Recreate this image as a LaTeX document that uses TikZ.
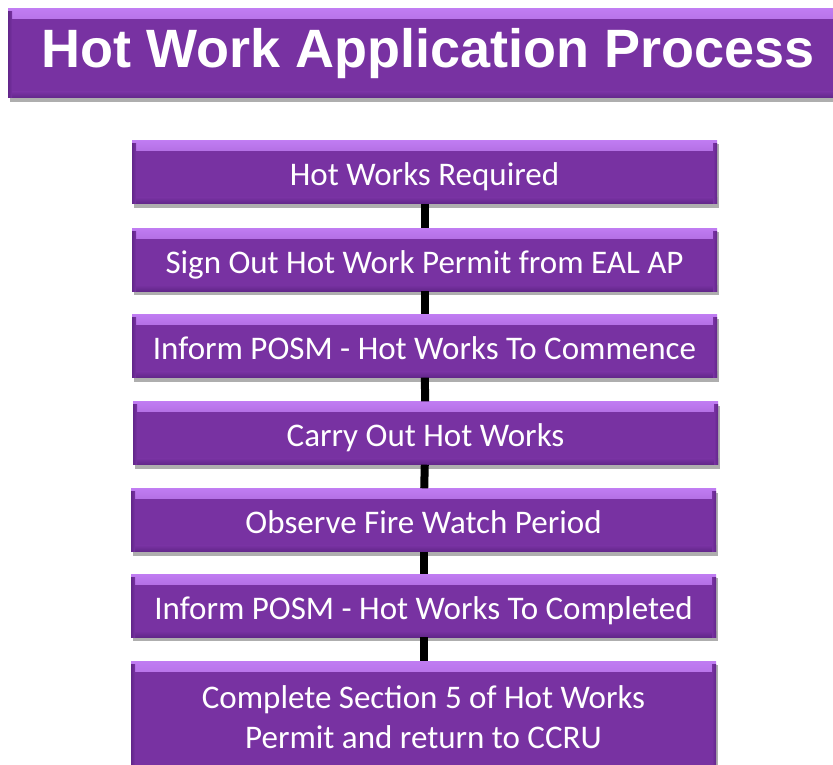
\documentclass[tikz,border=0pt]{standalone}
\usepackage{fontspec}
\setmainfont{Carlito}
\newfontfamily\titlefont{Liberation Sans}
\usetikzlibrary{shadows}
\definecolor{boxpurple}{HTML}{7832A2}
\definecolor{bevellight}{HTML}{C07CF2}
\definecolor{boxdark}{HTML}{62268A}
\tikzset{
  bevelled/.style={
    fill=boxpurple, text=white, inner sep=0pt, align=center,
    drop shadow={shadow xshift=2pt, shadow yshift=-4pt, opacity=0.45, fill=black!70},
    path picture={
      \shade[top color=bevellight, bottom color=boxpurple]
        (path picture bounding box.north west) rectangle ([yshift=-10pt]path picture bounding box.north east);
      \shade[top color=boxpurple, bottom color=boxdark]
        ([yshift=6pt]path picture bounding box.south west) rectangle (path picture bounding box.south east);
      \shade[left color=boxdark, right color=boxpurple]
        ([yshift=-3pt]path picture bounding box.north west) rectangle ([xshift=4pt]path picture bounding box.south west);
      \shade[left color=boxpurple, right color=boxdark]
        ([xshift=-4pt,yshift=-3pt]path picture bounding box.north east) rectangle (path picture bounding box.south east);
    }},
  stepbase/.style={bevelled, minimum width=585, minimum height=63,
    font=\fontsize{33}{40}\selectfont},
  stepbox/.style={stepbase, text height=27pt, text depth=0pt},
  titlebox/.style={bevelled, minimum width=840, minimum height=89,
    font=\titlefont\bfseries\fontsize{54}{60}\selectfont},
  link/.style={line width=8pt, black}
}
\begin{document}
\begin{tikzpicture}[x=1pt, y=-1pt]
\useasboundingbox (0,0) rectangle (833,765);
\node[titlebox] (title) at (428,53.5) {Hot Work Application Process};
\node[stepbox] (s1) at (424.5,172) {Hot Works Required};
\node[stepbox] (s2) at (424.5,259.5) {Sign Out Hot Work Permit from EAL AP};
\node[stepbox] (s3) at (424.5,346) {Inform POSM - Hot Works To Commence};
\node[stepbox] (s4) at (425.5,433) {Carry Out Hot Works};
\node[stepbox] (s5) at (423.5,520) {Observe Fire Watch Period};
\node[stepbox] (s6) at (423.5,605.5) {Inform POSM - Hot Works To Completed};
\node[stepbase, minimum height=112] (s7) at (423.5,717) {Complete Section 5 of Hot Works\\Permit and return to CCRU};
\draw[link] (s1) -- (s2);
\draw[link] (s2) -- (s3);
\draw[link] (s3) -- (s4);
\draw[link] (s4) -- (s5);
\draw[link] (s5) -- (s6);
\draw[link] (s6) -- (s7);
\end{tikzpicture}
\end{document}
